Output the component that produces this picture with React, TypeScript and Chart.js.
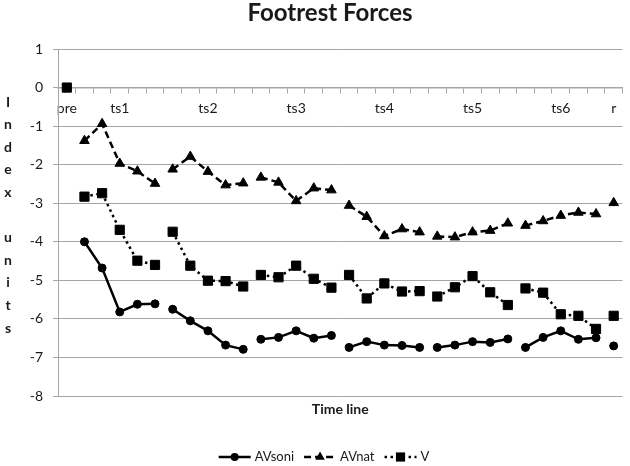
import React, { useEffect, useRef } from 'react';
import { Chart, registerables } from 'chart.js';

Chart.register(...registerables);

const categories: string[] = [
  'pre', '', '', 'ts1', '', '', '', '', 'ts2', '', '', '', '', 'ts3', '', '', '',
  '', 'ts4', '', '', '', '', 'ts5', '', '', '', '', 'ts6', '', '', 'r',
];

const avsoni: (number | null)[] = [
  null, -4.0, -4.68, -5.82, -5.62, -5.61, -5.75, -6.05, -6.31, -6.68, -6.79,
  -6.53, -6.48, -6.31, -6.5, -6.43, -6.74, -6.59, -6.68, -6.69, -6.74,
  -6.74, -6.68, -6.59, -6.61, -6.52, -6.74, -6.48, -6.31, -6.53, -6.49, -6.7,
];

const avnat: (number | null)[] = [
  null, -1.38, -0.94, -1.97, -2.17, -2.49, -2.12, -1.79, -2.18, -2.53, -2.48,
  -2.33, -2.46, -2.94, -2.61, -2.66, -3.06, -3.35, -3.85, -3.67, -3.75,
  -3.86, -3.88, -3.75, -3.71, -3.52, -3.58, -3.46, -3.32, -3.24, -3.28, -2.99,
];

const vData: (number | null)[] = [
  0, -2.83, -2.74, -3.69, -4.49, -4.6, -3.74, -4.62, -5.01, -5.02, -5.16,
  -4.86, -4.92, -4.62, -4.96, -5.19, -4.86, -5.47, -5.08, -5.29, -5.28,
  -5.42, -5.18, -4.89, -5.31, -5.64, -5.21, -5.32, -5.88, -5.92, -6.26, -5.92,
];

const seriesNames = ['AVsoni', 'AVnat', 'V'];
const groupEnds = [0, 5, 10, 15, 20, 25, 30];
const yTitle = ['I', 'n', 'd', 'e', 'x', '', 'u', 'n', 'i', 't', 's'];
const chartTitle = 'Footrest Forces';
const xTitle = 'Time line';

const FONT = 'Lato, "Open Sans", sans-serif';
const GRID = '#a6a6a6';
const TEXT = '#1a1a1a';

const gapSegment = {
  borderColor: (ctx: any) => (groupEnds.includes(ctx.p0DataIndex) ? 'rgba(0,0,0,0)' : undefined),
};

const styles = [
  { dash: [] as number[], marker: 'circle', radius: 4 },
  { dash: [7, 4], marker: 'triangle', radius: 5.5 },
  { dash: [2.5, 3.5], marker: 'rect', radius: 6.5 },
];

function drawMarker(ctx: CanvasRenderingContext2D, kind: string, x: number, y: number, r: number) {
  ctx.beginPath();
  if (kind === 'circle') {
    ctx.arc(x, y, r, 0, Math.PI * 2);
  } else if (kind === 'triangle') {
    ctx.moveTo(x, y - r);
    ctx.lineTo(x + r * Math.sin((2 * Math.PI) / 3), y - r * Math.cos((2 * Math.PI) / 3));
    ctx.lineTo(x + r * Math.sin((4 * Math.PI) / 3), y - r * Math.cos((4 * Math.PI) / 3));
    ctx.closePath();
  } else {
    const s = Math.SQRT1_2 * r;
    ctx.rect(x - s, y - s, 2 * s, 2 * s);
  }
  ctx.fill();
}

const textPlugin = {
  id: 'textPlugin',
  afterDraw(chart: any) {
    const ctx: CanvasRenderingContext2D = chart.ctx;
    const area = chart.chartArea;
    ctx.save();
    ctx.fillStyle = TEXT;
    // main title
    ctx.font = `bold 24px ${FONT}`;
    ctx.textAlign = 'center';
    ctx.textBaseline = 'alphabetic';
    ctx.fillText(chartTitle, 330, 21);
    // x title
    ctx.font = `bold 14px ${FONT}`;
    ctx.textBaseline = 'middle';
    ctx.fillText(xTitle, (area.left + area.right) / 2, 409);
    // y title, stacked letters
    yTitle.forEach((ch, i) => {
      ctx.fillText(ch, 8, 102 + i * 22.6);
    });
    // legend
    ctx.font = `13px ${FONT}`;
    const sample = 32;
    const gap = 4;
    const itemGap = 10;
    const widths = seriesNames.map((n) => sample + gap + ctx.measureText(n).width);
    const total = widths.reduce((a, b) => a + b, 0) + itemGap * (widths.length - 1);
    let x = 324 - total / 2;
    const y = 457;
    seriesNames.forEach((name, i) => {
      const st = styles[i];
      ctx.strokeStyle = '#000';
      ctx.fillStyle = '#000';
      ctx.lineWidth = 2.5;
      ctx.setLineDash(st.dash);
      ctx.beginPath();
      ctx.moveTo(x, y);
      ctx.lineTo(x + sample, y);
      ctx.stroke();
      ctx.setLineDash([]);
      drawMarker(ctx, st.marker, x + sample / 2, y, st.radius);
      ctx.fillStyle = TEXT;
      ctx.textAlign = 'left';
      ctx.textBaseline = 'middle';
      ctx.fillText(name, x + sample + gap, y);
      x += widths[i] + itemGap;
    });
    ctx.restore();
  },
};

export default function App() {
  const canvasRef = useRef<HTMLCanvasElement | null>(null);

  useEffect(() => {
    document.body.style.margin = '0';
    const canvas = canvasRef.current;
    if (!canvas) return;
    const seriesData = [avsoni, avnat, vData];
    const chart = new Chart(canvas, {
      type: 'line',
      data: {
        labels: categories,
        datasets: seriesNames.map((name, i) => ({
          label: name,
          data: seriesData[i],
          borderColor: '#000',
          backgroundColor: '#000',
          borderWidth: 2.5,
          borderDash: styles[i].dash,
          pointStyle: styles[i].marker as any,
          pointRadius: styles[i].radius,
          pointBorderWidth: 1,
          pointBorderColor: '#000',
          pointBackgroundColor: '#000',
          tension: 0,
          spanGaps: false,
          segment: gapSegment as any,
        })),
      },
      options: {
        animation: false,
        responsive: false,
        maintainAspectRatio: false,
        layout: { padding: { left: 0, top: 49, right: 4, bottom: 70 } },
        plugins: {
          legend: { display: false },
          title: { display: false },
          tooltip: { enabled: false },
        },
        scales: {
          x: {
            type: 'category',
            position: { y: 0 } as any,
            offset: true,
            grid: {
              display: true,
              drawOnChartArea: false,
              drawTicks: true,
              tickLength: 5,
              offset: true,
              color: GRID,
            },
            border: { display: true, color: GRID, width: 1.5 },
            ticks: {
              autoSkip: false,
              maxRotation: 0,
              minRotation: 0,
              padding: 8,
              color: TEXT,
              font: { family: FONT, size: 14 },
            },
          },
          y: {
            type: 'linear',
            min: -8,
            max: 1,
            afterFit: (scale: any) => {
              scale.width = 58;
            },
            grid: {
              color: GRID,
              drawTicks: true,
              tickLength: 5,
            },
            border: { display: true, color: GRID },
            ticks: {
              stepSize: 1,
              padding: 10,
              color: TEXT,
              font: { family: FONT, size: 14 },
            },
          },
        },
      },
      plugins: [textPlugin],
    });
    return () => chart.destroy();
  }, []);

  return (
    <div style={{ position: 'relative', width: 630, height: 466 }}>
      <canvas ref={canvasRef} width={630} height={466} style={{ width: 630, height: 466 }} />
    </div>
  );
}
